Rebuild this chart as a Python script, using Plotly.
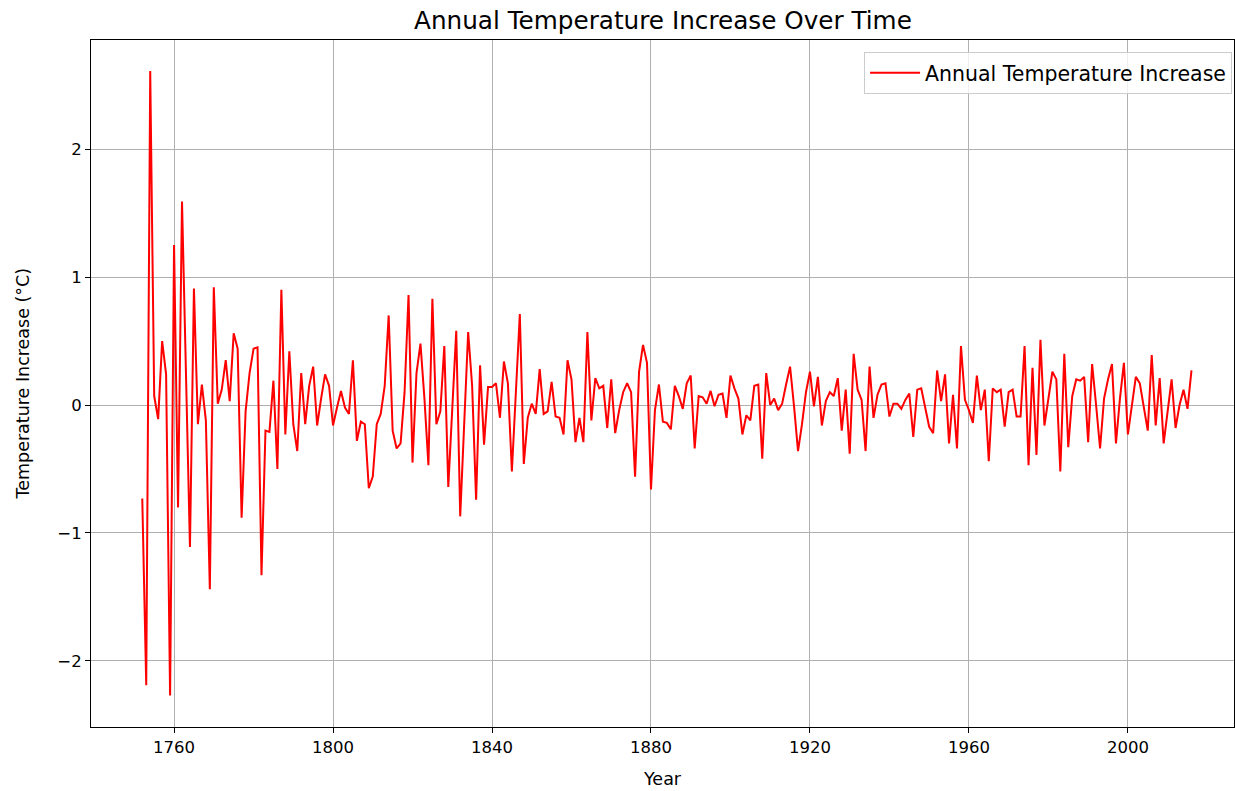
import plotly.graph_objects as go

years = list(range(1752, 2017))

temp_increase = [
    -0.73, -2.19, 2.61, 0.07, -0.11, 0.50, 0.24, -2.27,            # 1752-1759
    1.25, -0.80, 1.59, 0.20, -1.11, 0.91, -0.15, 0.16, -0.12, -1.44,  # 1760s
    0.92, 0.01, 0.12, 0.35, 0.03, 0.56, 0.44, -0.88, -0.05, 0.25,     # 1770s
    0.44, 0.45, -1.33, -0.20, -0.21, 0.19, -0.50, 0.90, -0.23, 0.42,  # 1780s
    -0.15, -0.36, 0.25, -0.15, 0.15, 0.30, -0.16, 0.05, 0.24, 0.15,   # 1790s
    -0.16, -0.02, 0.11, -0.02, -0.07, 0.35, -0.28, -0.13, -0.15, -0.65,  # 1800s
    -0.56, -0.15, -0.07, 0.15, 0.70, -0.20, -0.34, -0.30, 0.10, 0.86,    # 1810s
    -0.45, 0.25, 0.48, 0.05, -0.47, 0.83, -0.15, -0.05, 0.46, -0.64,     # 1820s
    -0.05, 0.58, -0.87, -0.10, 0.57, 0.15, -0.74, 0.31, -0.31, 0.14,     # 1830s
    0.14, 0.17, -0.10, 0.34, 0.17, -0.52, 0.10, 0.71, -0.46, -0.10,      # 1840s
    0.01, -0.07, 0.28, -0.07, -0.05, 0.18, -0.09, -0.10, -0.23, 0.35,    # 1850s
    0.20, -0.29, -0.10, -0.29, 0.57, -0.12, 0.21, 0.13, 0.15, -0.18,     # 1860s
    0.20, -0.22, -0.04, 0.10, 0.17, 0.10, -0.56, 0.26, 0.47, 0.33,       # 1870s
    -0.66, -0.04, 0.16, -0.13, -0.14, -0.19, 0.15, 0.07, -0.03, 0.17,    # 1880s
    0.23, -0.34, 0.07, 0.06, 0.01, 0.11, -0.01, 0.08, 0.09, -0.10,       # 1890s
    0.23, 0.13, 0.05, -0.23, -0.08, -0.12, 0.15, 0.16, -0.42, 0.25,      # 1900s
    0.00, 0.05, -0.04, 0.01, 0.16, 0.30, -0.01, -0.36, -0.15, 0.10,      # 1910s
    0.26, -0.01, 0.22, -0.16, 0.03, 0.10, 0.07, 0.21, -0.20, 0.12,       # 1920s
    -0.38, 0.40, 0.12, 0.04, -0.36, 0.30, -0.10, 0.08, 0.16, 0.17,       # 1930s
    -0.09, 0.01, 0.01, -0.03, 0.04, 0.09, -0.25, 0.12, 0.13, -0.01,      # 1940s
    -0.17, -0.22, 0.27, 0.03, 0.24, -0.30, 0.08, -0.34, 0.46, 0.04,      # 1950s
    -0.04, -0.14, 0.23, -0.04, 0.12, -0.44, 0.13, 0.10, 0.12, -0.17,     # 1960s
    0.10, 0.12, -0.09, -0.09, 0.46, -0.47, 0.29, -0.39, 0.51, -0.16,     # 1970s
    0.07, 0.26, 0.20, -0.52, 0.40, -0.33, 0.07, 0.20, 0.19, 0.22,        # 1980s
    -0.29, 0.32, 0.00, -0.34, 0.05, 0.20, 0.32, -0.30, 0.05, 0.33,       # 1990s
    -0.23, 0.00, 0.22, 0.17, 0.00, -0.20, 0.39, -0.16, 0.21, -0.30,      # 2000s
    -0.05, 0.20, -0.18, 0.00, 0.12, -0.03, 0.27,                         # 2010-2016
]

x_ticks = [1760, 1800, 1840, 1880, 1920, 1960, 2000]
y_ticks = [-2, -1, 0, 1, 2]
y_tick_labels = ["\u22122", "\u22121", "0", "1", "2"]

FONT = "DejaVu Sans"

fig = go.Figure()
fig.add_trace(go.Scatter(
    x=years, y=temp_increase, mode="lines",
    name="Annual Temperature Increase",
    line=dict(color="#ff0000", width=2),
))

axis_common = dict(
    showline=True, linecolor="black", linewidth=1, mirror=True,
    ticks="outside", ticklen=5, tickwidth=1, tickcolor="black",
    showgrid=True, gridcolor="#b0b0b0", gridwidth=1,
    zeroline=False,
    tickfont=dict(family=FONT, size=16.5, color="black"),
)

fig.update_layout(
    width=1235, height=791,
    margin=dict(l=91, r=1, t=40, b=64),
    paper_bgcolor="white", plot_bgcolor="white",
    font=dict(family=FONT, color="black"),
    showlegend=True,
    legend=dict(
        x=0.9983, y=0.9825, xanchor="right", yanchor="top",
        bgcolor="rgba(255,255,255,0.8)", bordercolor="#cccccc", borderwidth=1,
        font=dict(family=FONT, size=20.5, color="black"),
        itemwidth=50,
    ),
    xaxis=dict(range=[1739.1, 2026.7], tickvals=x_ticks, **axis_common),
    yaxis=dict(range=[-2.516, 2.852], tickvals=y_ticks, ticktext=y_tick_labels, **axis_common),
    annotations=[
        dict(text="Annual Temperature Increase Over Time", xref="paper", yref="paper",
             x=0.5, y=1 + 20 / 687, xanchor="center", yanchor="middle", showarrow=False,
             font=dict(family=FONT, size=24.7, color="black")),
        dict(text="Year", xref="paper", yref="paper",
             x=0.5, y=-52 / 687, xanchor="center", yanchor="middle", showarrow=False,
             font=dict(family=FONT, size=17.5, color="black")),
        dict(text="Temperature Increase (°C)", xref="paper", yref="paper",
             x=-69 / 1143, y=0.5, xanchor="center", yanchor="middle", showarrow=False,
             textangle=-90, font=dict(family=FONT, size=17.5, color="black")),
    ],
)

fig.write_html(
    "out.html",
    config={"displayModeBar": False},
    post_script="document.body.style.margin='0';document.body.style.overflow='hidden';",
)
